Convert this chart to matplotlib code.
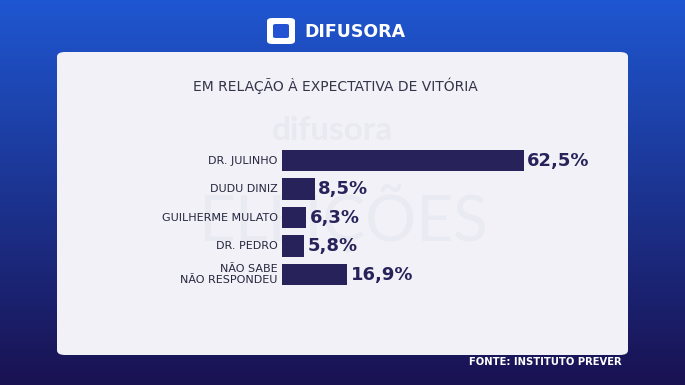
import numpy as np
import matplotlib.pyplot as plt
from matplotlib.patches import FancyBboxPatch

# values
names = ['DR. JULINHO', 'DUDU DINIZ', 'GUILHERME MULATO', 'DR. PEDRO', 'NÃO SABE\nNÃO RESPONDEU']
values = [62.5, 8.5, 6.3, 5.8, 16.9]
value_labels = ['62,5%', '8,5%', '6,3%', '5,8%', '16,9%']

bar_color = '#27235a'
card_color = '#f1f1f7'

fig = plt.figure(figsize=(6.85, 3.85), dpi=100)

# background gradient
bg = fig.add_axes([0, 0, 1, 1])
bg.set_axis_off()
yy = np.linspace(0, 1, 200)[:, None]
top = np.array([0.12, 0.34, 0.82])
bottom = np.array([0.10, 0.07, 0.32])
grad = top * (1 - yy[..., None]) + bottom * yy[..., None]
grad = np.repeat(grad, 10, axis=1)
bg.imshow(grad, aspect='auto', extent=[0, 1, 0, 1], origin='upper')
bg.set_xlim(0, 1)
bg.set_ylim(0, 1)

# white card
card = FancyBboxPatch((57 / 685, 1 - 355 / 385), (628 - 57) / 685, (355 - 52) / 385,
                      boxstyle='round,pad=0,rounding_size=0.012',
                      transform=bg.transAxes, facecolor=card_color, edgecolor='none')
bg.add_patch(card)

# faint watermark
bg.text(0.485, 1 - 130 / 385, 'difusora', fontsize=24, fontweight='bold', color='#e9e9f1',
        ha='center', va='center', family='Lato')
bg.text(0.50, 1 - 218 / 385, 'ELEIÇÕES', fontsize=46, color='#eaeaf2',
        ha='center', va='center', family='Lato')

# logo
bg.add_patch(FancyBboxPatch((267 / 685, 1 - 44 / 385), 28 / 685, 26 / 385,
                            boxstyle='round,pad=0,rounding_size=0.008',
                            transform=bg.transAxes, facecolor='white', edgecolor='none'))
bg.add_patch(FancyBboxPatch((273 / 685, 1 - 38 / 385), 16 / 685, 14 / 385,
                            boxstyle='round,pad=0,rounding_size=0.004',
                            transform=bg.transAxes, facecolor='#2353d2', edgecolor='none'))
bg.text(304 / 685, 1 - 32 / 385, 'DIFUSORA', fontsize=12.5, fontweight='bold', color='white',
        ha='left', va='center', family='DejaVu Sans')

# title and source
bg.text(335 / 685, 1 - 86 / 385, 'EM RELAÇÃO À EXPECTATIVA DE VITÓRIA', fontsize=10,
        color='#34344a', ha='center', va='center', family='DejaVu Sans')
bg.text(622 / 685, 1 - 362 / 385, 'FONTE: INSTITUTO PREVER', fontsize=7.2, fontweight='bold',
        color='white', ha='right', va='center', family='DejaVu Sans')

# bars
ax = fig.add_axes([282 / 685, 0.25, 387 / 685, 0.370])
y = np.arange(len(names))
ax.barh(y, values, height=0.76, color=bar_color)
ax.set_xlim(0, 100)
ax.set_ylim(len(names) - 0.5, -0.5)
ax.set_axis_off()
for yi, v, lab, name in zip(y, values, value_labels, names):
    ax.text(v + 0.8, yi, lab, fontsize=13, fontweight='bold', color=bar_color,
            ha='left', va='center', family='DejaVu Sans')
    ax.annotate(name, xy=(0, yi), xytext=(-3, 0), textcoords='offset points',
                ha='right', va='center', fontsize=8, color='#26263e',
                family='DejaVu Sans', linespacing=1.15)

fig.savefig('out.png', dpi=100)
